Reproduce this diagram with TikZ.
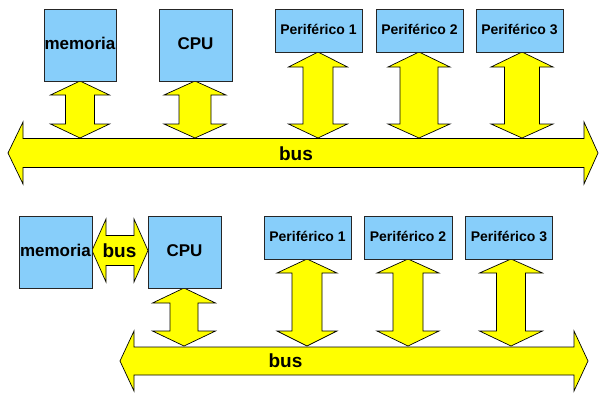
\documentclass[tikz,border=0pt]{standalone}
\usepackage{fontspec}
\setmainfont{Liberation Sans}
\begin{document}
\begin{tikzpicture}[x=1pt,y=-1pt,
  unit/.style={draw=black!85,fill=boxblue,line width=0.7pt,inner sep=0pt,
     font=\bfseries\fontsize{17}{17}\selectfont,text height=8pt,text depth=0pt},
  perif/.style={unit,minimum width=87pt,minimum height=43pt,font=\bfseries\fontsize{14}{14}\selectfont},
  big/.style={unit,minimum width=72pt,minimum height=72pt},
  barrow/.style={draw=black,fill=yellow,line width=0.7pt,line join=miter},
  buslabel/.style={anchor=base,inner sep=0pt,font=\bfseries\fontsize{19}{19}\selectfont}]
\definecolor{boxblue}{RGB}{135,206,250}
\definecolor{yellow}{RGB}{255,255,0}
\useasboundingbox (0,0) rectangle (599,394);
% vertical double arrow: c, top, bottom, head half, shaft half, head length top, head length bottom
\newcommand\VArr[7]{\draw[barrow] (#1,#2) -- (#1+#4,#2+#6) -- (#1+#5,#2+#6) -- (#1+#5,#3-#7) -- (#1+#4,#3-#7) -- (#1,#3) -- (#1-#4,#3-#7) -- (#1-#5,#3-#7) -- (#1-#5,#2+#6) -- (#1-#4,#2+#6) -- cycle;}
% horizontal double arrow: left tip, left base, right base, right tip, center y, head half, shaft half
\newcommand\HArr[7]{\draw[barrow] (#1,#5) -- (#2,#5-#6) -- (#2,#5-#7) -- (#3,#5-#7) -- (#3,#5-#6) -- (#4,#5) -- (#3,#5+#6) -- (#3,#5+#7) -- (#2,#5+#7) -- (#2,#5+#6) -- cycle;}

% ---------- top diagram ----------
\HArr{8}{23}{584}{598}{153}{31}{14.5}
\node[buslabel] (bus1) at (296,160) {bus};
\VArr{80}{81}{138}{29.5}{14.5}{14}{14}
\VArr{195}{81}{138}{31}{16}{14}{14}
\VArr{318}{52}{138}{29.5}{15}{15}{14}
\VArr{419}{52}{138}{31}{19}{15}{14}
\VArr{522}{52}{138}{31}{17.5}{15}{14}
\node[big] (mem) at (80,45) {memoria};
\node[big,minimum width=73pt] (cpu) at (195.5,45) {CPU};
\node[perif] (p1) at (318.5,30.5) {Periférico 1};
\node[perif] (p2) at (419.5,30.5) {Periférico 2};
\node[perif] (p3) at (519.5,30.5) {Periférico 3};

% ---------- bottom diagram ----------
\HArr{120}{134}{574}{588}{361}{30}{14}
\node[buslabel] (bus2) at (285.5,367) {bus};
\HArr{92}{106}{134}{148}{250.5}{31.5}{15}
\node[buslabel] (bus3) at (119.5,257) {bus};
\VArr{184}{288}{346}{31.5}{14}{15}{15}
\VArr{307}{259}{346}{30}{15}{14}{15}
\VArr{408}{259}{346}{31}{15}{14}{15}
\VArr{511}{259}{346}{31.5}{14.5}{14}{15}
\node[big,minimum width=73pt] (mem2) at (55.5,252) {memoria};
\node[big,minimum width=73pt] (cpu2) at (184.5,252) {CPU};
\node[perif] (q1) at (307.5,237.5) {Periférico 1};
\node[perif,minimum width=88pt] (q2) at (408,237.5) {Periférico 2};
\node[perif] (q3) at (509,237.5) {Periférico 3};
\end{tikzpicture}
\end{document}
